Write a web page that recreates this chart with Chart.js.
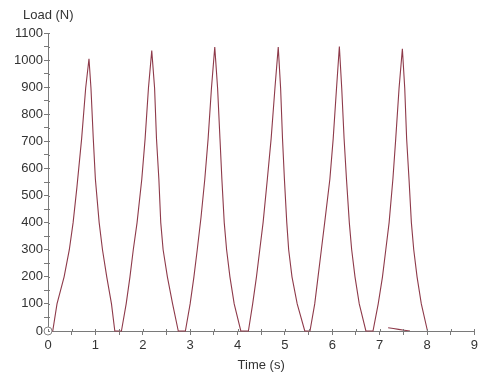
<!DOCTYPE html>
<html>
<head>
<meta charset="utf-8">
<title>Load vs Time</title>
<script src="https://cdn.jsdelivr.net/npm/chart.js@4/dist/chart.umd.min.js"></script>
<style>
  html, body { margin: 0; padding: 0; background: #fff; }
  canvas { display: block; }
</style>
</head>
<body>
<canvas id="loadChart" width="481" height="375"></canvas>
<script>
// 读图得到的数据 (时间 s / 载荷 N)
var timeValues = [
    0, 0.10, 0.19, 0.34, 0.45, 0.53, 0.61, 0.71, 0.795, 0.865,
    0.907, 0.956, 1.00, 1.08, 1.15, 1.24, 1.34, 1.41,
    1.55, 1.65, 1.73, 1.80, 1.88, 1.98, 2.05, 2.12, 2.19,
    2.25, 2.29, 2.34, 2.38, 2.43, 2.52, 2.63, 2.75,
    2.90, 3.00, 3.08, 3.15, 3.23, 3.31, 3.38, 3.45, 3.52,
    3.58, 3.63, 3.67, 3.72, 3.77, 3.84, 3.93, 4.07,
    4.23, 4.32, 4.40, 4.47, 4.54, 4.63, 4.71, 4.79, 4.86,
    4.91, 4.95, 4.99, 5.04, 5.08, 5.15, 5.26, 5.42,
    5.53, 5.63, 5.70, 5.77, 5.84, 5.95, 6.02, 6.09, 6.15,
    6.20, 6.25, 6.30, 6.36, 6.41, 6.48, 6.57, 6.71,
    6.86, 6.97, 7.06, 7.13, 7.20, 7.28, 7.34, 7.41, 7.48,
    7.53, 7.57, 7.62, 7.67, 7.72, 7.79, 7.88, 8.01
];
var loadValues = [
    0, 0, 100, 200, 300, 400, 530, 710, 896, 1005,
    896, 710, 561, 400, 300, 200, 100, 0,
    0, 100, 200, 300, 400, 561, 710, 896, 1035,
    896, 710, 561, 400, 300, 200, 100, 0,
    0, 100, 200, 300, 420, 561, 710, 896, 1048,
    896, 710, 561, 400, 300, 200, 100, 0,
    0, 100, 200, 300, 400, 561, 710, 896, 1048,
    896, 710, 561, 400, 300, 200, 100, 0,
    0, 100, 200, 300, 400, 561, 710, 896, 1050,
    896, 710, 561, 400, 300, 200, 100, 0,
    0, 100, 200, 300, 400, 561, 710, 896, 1042,
    896, 710, 561, 400, 300, 200, 100, 0
];
// 8 s 附近的小尾巴
var tailTime = [7.18, 7.40, 7.64];
var tailLoad = [12, 6, 0];

var xMin = 0, xMax = 9, xStep = 0.5;
var yMin = 0, yMax = 1100, yStep = 50;

var lineColor = '#8e3a4a';
var axisColor = '#7a7a7a';
var textColor = '#333333';
var fontFamily = 'Arial, "Liberation Sans", sans-serif';

function toPoints(xs, ys) {
    return xs.map(function (x, i) { return { x: x, y: ys[i] }; });
}

// 左上角的 y 轴标题 + 刻度线向内的一小段
var axisExtrasPlugin = {
    id: 'axisExtras',
    afterDraw: function (chart) {
        var ctx = chart.ctx;
        var xs = chart.scales.x, ys = chart.scales.y;
        ctx.save();
        ctx.strokeStyle = axisColor;
        ctx.lineWidth = 1;
        ctx.beginPath();
        xs.ticks.forEach(function (t) {
            var px = Math.round(xs.getPixelForValue(t.value)) + 0.5;
            ctx.moveTo(px, xs.top);
            ctx.lineTo(px, xs.top - 2);
        });
        ys.ticks.forEach(function (t) {
            var py = Math.round(ys.getPixelForValue(t.value)) + 0.5;
            ctx.moveTo(ys.right, py);
            ctx.lineTo(ys.right + 2, py);
        });
        ctx.stroke();

        ctx.font = '13px ' + fontFamily;
        ctx.fillStyle = textColor;
        ctx.textBaseline = 'middle';
        ctx.textAlign = 'left';
        ctx.fillText('Load (N)', 23, 15);
        ctx.restore();
    }
};

new Chart(document.getElementById('loadChart'), {
    type: 'line',
    data: {
        datasets: [{
            data: toPoints(timeValues, loadValues),
            borderColor: lineColor,
            borderWidth: 1.1,
            tension: 0,
            clip: false,
            pointRadius: timeValues.map(function (t, i) { return i === 0 ? 4 : 0; }),
            pointBackgroundColor: '#ffffff',
            pointBorderColor: '#888888',
            pointBorderWidth: 1
        }, {
            data: toPoints(tailTime, tailLoad),
            borderColor: lineColor,
            borderWidth: 1.1,
            tension: 0.3,
            pointRadius: 0
        }]
    },
    options: {
        responsive: false,
        animation: false,
        layout: { padding: { top: 33, right: 6, left: 0, bottom: 0 } },
        plugins: {
            legend: { display: false },
            tooltip: { enabled: false }
        },
        scales: {
            x: {
                type: 'linear',
                min: xMin,
                max: xMax,
                afterFit: function (scale) { scale.height = 44; },
                grid: { drawOnChartArea: false, color: axisColor, tickLength: 4 },
                border: { color: axisColor },
                ticks: {
                    stepSize: xStep,
                    autoSkip: false,
                    maxRotation: 0,
                    padding: 3,
                    color: textColor,
                    font: { size: 13, family: fontFamily },
                    callback: function (v) { return v % 1 === 0 ? v : ''; }
                },
                title: {
                    display: true,
                    text: 'Time (s)',
                    color: textColor,
                    font: { size: 13, family: fontFamily },
                    padding: { top: 4, bottom: 2 }
                }
            },
            y: {
                min: yMin,
                max: yMax,
                afterFit: function (scale) { scale.width = 48; },
                grid: { drawOnChartArea: false, color: axisColor, tickLength: 4 },
                border: { color: axisColor },
                ticks: {
                    stepSize: yStep,
                    maxTicksLimit: 100,
                    autoSkip: false,
                    padding: 1,
                    color: textColor,
                    font: { size: 13, family: fontFamily },
                    callback: function (v) { return v % 100 === 0 ? v : ''; }
                }
            }
        }
    },
    plugins: [axisExtrasPlugin]
});
</script>
</body>
</html>
